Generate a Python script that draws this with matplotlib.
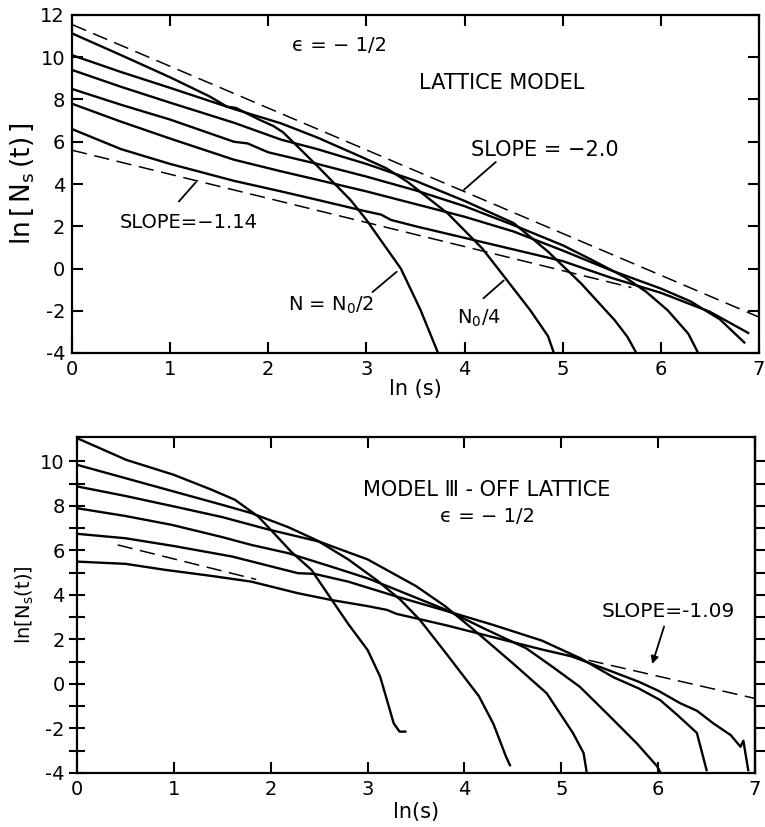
import matplotlib
matplotlib.use("Agg")
import matplotlib.pyplot as plt

plt.rcParams['font.family'] = ['DejaVu Sans']
plt.rcParams['mathtext.default'] = 'regular'
plt.rcParams['axes.unicode_minus'] = False

# ---------------- top panel: lattice model ----------------
lat_a_x = [0, 0.5, 1.0, 1.4, 1.58, 1.67, 1.92, 2.05, 2.15, 2.26, 2.5, 2.84, 3.0, 3.35, 3.55, 3.73]
lat_a_y = [11.13, 10.1, 9.05, 8.15, 7.66, 7.6, 7.02, 6.75, 6.45, 5.95, 4.85, 3.23, 2.3, 0.0, -1.95, -4.0]
lat_b_x = [0, 0.5, 1.0, 1.65, 2.13, 2.5, 2.94, 3.2, 3.42, 3.83, 4.18, 4.42, 4.67, 4.85, 4.91]
lat_b_y = [10.1, 9.3, 8.55, 7.55, 6.87, 6.2, 5.3, 4.75, 4.1, 2.6, 0.95, -0.48, -1.98, -3.2, -4.0]
lat_c_x = [0, 0.5, 1.0, 1.65, 2.13, 2.5, 3.0, 3.5, 4.0, 4.5, 4.85, 5.19, 5.53, 5.66, 5.75]
lat_c_y = [9.4, 8.6, 7.85, 6.9, 6.1, 5.65, 4.95, 4.15, 3.2, 2.15, 0.8, -0.72, -2.45, -3.24, -4.0]
lat_d_x = [0, 0.5, 1.0, 1.65, 1.79, 2.0, 2.5, 3.0, 3.5, 4.0, 4.5, 5.0, 5.3, 5.63, 5.85, 6.07, 6.28, 6.38]
lat_d_y = [8.5, 7.75, 7.05, 6.0, 5.92, 5.5, 4.95, 4.35, 3.7, 2.95, 2.05, 1.1, 0.4, -0.4, -1.1, -1.98, -3.09, -4.0]
lat_e_x = [0, 0.5, 1.0, 1.65, 2.13, 2.5, 3.0, 3.5, 4.0, 4.5, 5.0, 5.5, 6.0, 6.3, 6.6, 6.85]
lat_e_y = [7.8, 6.95, 6.15, 5.15, 4.6, 4.2, 3.65, 3.05, 2.45, 1.75, 0.85, -0.1, -0.95, -1.55, -2.4, -3.5]
lat_f_x = [0, 0.5, 1.0, 1.65, 2.13, 2.5, 3.0, 3.15, 3.25, 3.5, 4.0, 4.5, 5.0, 5.5, 6.0, 6.5, 6.89]
lat_f_y = [6.6, 5.65, 4.95, 4.15, 3.65, 3.25, 2.7, 2.55, 2.3, 2.0, 1.45, 0.9, 0.35, -0.45, -1.15, -2.05, -3.05]

lat_slope2_x = [0.0, 7.0]
lat_slope2_y = [11.55, -2.3]
lat_slope114_x = [0.0, 5.7]
lat_slope114_y = [5.6, -0.9]

# ---------------- bottom panel: model III off lattice ----------------
off_a_x = [0, 0.51, 1.0, 1.39, 1.63, 1.87, 2.05, 2.21, 2.42, 2.62, 2.8, 3.0, 3.13, 3.2, 3.27, 3.33, 3.39]
off_a_y = [11.05, 10.07, 9.4, 8.73, 8.28, 7.53, 6.7, 5.95, 5.13, 3.85, 2.7, 1.53, 0.33, -0.72, -1.77, -2.14, -2.14]
off_b_x = [0, 0.5, 1.0, 1.5, 1.8, 2.18, 2.48, 2.8, 3.1, 3.34, 3.54, 3.81, 4.15, 4.3, 4.43, 4.47]
off_b_y = [9.85, 9.25, 8.65, 8.05, 7.68, 7.05, 6.45, 5.6, 4.65, 3.78, 2.88, 1.38, -0.55, -1.8, -3.27, -3.65]
off_c_x = [0, 0.5, 1.0, 1.5, 1.97, 2.5, 3.0, 3.5, 3.8, 4.16, 4.5, 4.85, 5.12, 5.23, 5.26]
off_c_y = [8.88, 8.45, 7.98, 7.5, 6.95, 6.4, 5.6, 4.4, 3.5, 2.2, 0.93, -0.42, -2.2, -3.1, -3.9]
off_d_x = [0, 0.5, 0.98, 1.5, 1.8, 2.18, 2.62, 3.0, 3.3, 3.8, 4.2, 4.64, 4.9, 5.19, 5.47, 5.78, 5.99, 6.02]
off_d_y = [7.9, 7.55, 7.15, 6.6, 6.25, 5.88, 5.28, 4.75, 4.23, 3.35, 2.5, 1.6, 0.8, -0.12, -1.32, -2.67, -3.7, -3.95]
off_e_x = [0, 0.5, 1.0, 1.6, 2.28, 2.45, 2.8, 3.3, 3.8, 4.3, 4.8, 5.2, 5.54, 5.8, 6.02, 6.2, 6.4, 6.5]
off_e_y = [6.75, 6.55, 6.2, 5.73, 4.98, 4.95, 4.6, 3.93, 3.3, 2.65, 1.95, 1.15, 0.3, -0.2, -0.72, -1.4, -2.2, -3.87]
off_f_x = [0, 0.5, 0.91, 1.4, 1.8, 2.28, 2.62, 3.0, 3.2, 3.3, 3.8, 4.3, 4.8, 5.1, 5.5, 5.8, 6.0, 6.23, 6.4, 6.57, 6.75, 6.85, 6.88, 6.93]
off_f_y = [5.5, 5.4, 5.13, 4.85, 4.6, 4.08, 3.78, 3.5, 3.33, 3.15, 2.65, 2.1, 1.55, 1.25, 0.6, 0.1, -0.3, -0.87, -1.2, -1.77, -2.3, -2.82, -2.55, -3.87]

off_dash_left_x = [0.42, 1.85]
off_dash_left_y = [6.25, 4.7]
off_dash_right_x = [5.05, 7.0]
off_dash_right_y = [1.3, -0.65]

W, H = 765, 827
fig = plt.figure(figsize=(W / 100, H / 100), dpi=100)
fig.patch.set_facecolor('white')

ax1 = fig.add_axes([72 / W, 1 - 353 / H, (759 - 72) / W, (353 - 15) / H])
ax2 = fig.add_axes([77 / W, 1 - 773 / H, (755 - 77) / W, (773 - 437) / H])

LW = 1.7
DASH = (0, (10, 5))
TICKFS = 14

for xs, ys in [(lat_a_x, lat_a_y), (lat_b_x, lat_b_y), (lat_c_x, lat_c_y),
               (lat_d_x, lat_d_y), (lat_e_x, lat_e_y), (lat_f_x, lat_f_y)]:
    ax1.plot(xs, ys, color='black', lw=LW, solid_joinstyle='round')
ax1.plot(lat_slope2_x, lat_slope2_y, color='black', lw=1.1, linestyle=DASH)
ax1.plot(lat_slope114_x, lat_slope114_y, color='black', lw=1.1, linestyle=DASH)

for xs, ys in [(off_a_x, off_a_y), (off_b_x, off_b_y), (off_c_x, off_c_y),
               (off_d_x, off_d_y), (off_e_x, off_e_y), (off_f_x, off_f_y)]:
    ax2.plot(xs, ys, color='black', lw=LW, solid_joinstyle='round')
ax2.plot(off_dash_left_x, off_dash_left_y, color='black', lw=1.1, linestyle=DASH)
ax2.plot(off_dash_right_x, off_dash_right_y, color='black', lw=1.1, linestyle=DASH)

# axes styling
ax1.set_xlim(0, 7)
ax1.set_ylim(-4, 12)
ax1.set_xticks(range(0, 8))
ax1.set_yticks(range(-4, 13, 2))

ax2.set_xlim(0, 7)
ax2.set_ylim(-4, 11.1)
ax2.set_xticks(range(0, 8))
ax2.set_yticks(range(-4, 11, 2))
ax2.set_yticks(range(-3, 11), minor=True)

for ax in (ax1, ax2):
    for s in ax.spines.values():
        s.set_linewidth(1.6)

ax1.tick_params(which='both', direction='in', top=True, right=True,
                length=8, width=1.5, labelsize=TICKFS, pad=5)
ax2.tick_params(axis='x', which='both', direction='in', top=True,
                length=8, width=1.5, labelsize=TICKFS, pad=5)
ax2.tick_params(axis='y', which='both', direction='inout', right=False,
                length=12, width=1.5, labelsize=TICKFS, pad=3)
sec = ax2.secondary_yaxis('right')
sec.set_yticks(range(-3, 11))
sec.tick_params(direction='out', length=7, width=1.5, labelright=False)
sec.spines['right'].set_linewidth(1.6)

ax1.set_xlabel('ln (s)', fontsize=15, labelpad=0)
ax1.set_ylabel(r'ln$\,\left[\,N_s\,(t)\,\right]$', fontsize=19, labelpad=3)
ax2.set_xlabel('ln(s)', fontsize=15, labelpad=2)
ax2.set_ylabel(r'ln$\left[N_s(t)\right]$', fontsize=14, labelpad=3)

# top annotations
ax1.text(2.73, 10.55, 'ϵ = − 1/2', fontsize=14, ha='center', va='center')
ax1.text(4.38, 8.78, 'LATTICE MODEL', fontsize=15, ha='center', va='center')
ax1.text(4.82, 5.6, 'SLOPE = −2.0', fontsize=15, ha='center', va='center')
ax1.annotate('', xy=(3.97, 3.63), xytext=(4.34, 5.13),
             arrowprops=dict(arrowstyle='-', lw=1.3, color='black'))
ax1.text(1.19, 2.2, 'SLOPE=−1.14', fontsize=14, ha='center', va='center')
ax1.annotate('', xy=(1.28, 4.18), xytext=(1.07, 3.07),
             arrowprops=dict(arrowstyle='-', lw=1.3, color='black'))
ax1.text(2.64, -1.74, 'N = N$_0$/2', fontsize=14, ha='center', va='center')
ax1.annotate('', xy=(3.33, -0.07), xytext=(3.04, -1.2),
             arrowprops=dict(arrowstyle='-', lw=1.3, color='black'))
ax1.text(4.15, -2.38, 'N$_0$/4', fontsize=14, ha='center', va='center')
ax1.annotate('', xy=(4.42, -0.48), xytext=(4.17, -1.5),
             arrowprops=dict(arrowstyle='-', lw=1.3, color='black'))

# bottom annotations
ax2.text(4.23, 8.72, 'MODEL Ⅲ - OFF LATTICE', fontsize=15, ha='center', va='center')
ax2.text(4.24, 7.52, 'ϵ = − 1/2', fontsize=14, ha='center', va='center')
ax2.text(6.1, 3.25, 'SLOPE=-1.09', fontsize=14.5, ha='center', va='center')
ax2.annotate('', xy=(5.93, 0.78), xytext=(6.07, 2.7),
             arrowprops=dict(arrowstyle='-|>', lw=1.3, color='black',
                             mutation_scale=11))

fig.savefig('out.png', dpi=100, facecolor='white')
